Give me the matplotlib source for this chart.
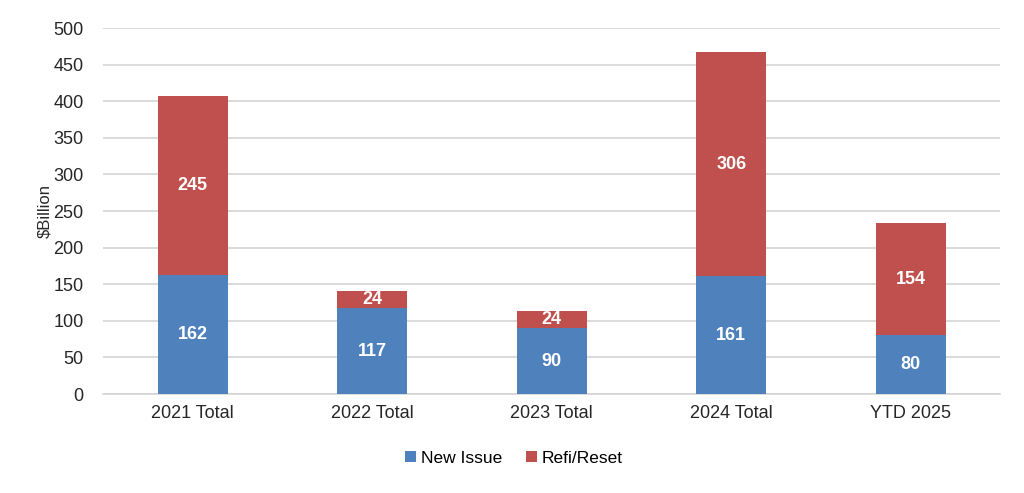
import matplotlib
matplotlib.use("Agg")
import matplotlib.pyplot as plt
import numpy as np

plt.rcParams['font.family'] = ['Liberation Sans', 'DejaVu Sans']

categories = ["2021 Total", "2022 Total", "2023 Total", "2024 Total", "YTD 2025"]
new_issue = [162, 117, 90, 161, 80]
refi_reset = [245, 24, 24, 306, 154]

blue = "#4F81BD"
red = "#C0504D"

fig = plt.figure(figsize=(10.24, 4.93), dpi=100)
ax = fig.add_axes([0.1006, 0.2008, 0.8764, 0.7424])

x = np.arange(len(categories))
w = 0.39
b1 = ax.bar(x, new_issue, w, color=blue, label="New Issue", zorder=3)
b2 = ax.bar(x, refi_reset, w, bottom=new_issue, color=red, label="Refi/Reset", zorder=3)

for i in range(len(categories)):
    ax.text(x[i], new_issue[i] / 2, str(new_issue[i]), ha="center", va="center",
            color="white", fontsize=13, fontweight="bold", zorder=4)
    ax.text(x[i], new_issue[i] + refi_reset[i] / 2, str(refi_reset[i]), ha="center", va="center",
            color="white", fontsize=13, fontweight="bold", zorder=4)

ax.set_xlim(-0.5, len(categories) - 0.5)
ax.set_ylim(0, 500)
ax.set_yticks(range(0, 501, 50))
ax.set_xticks(x)
ax.set_xticklabels(categories)
ax.yaxis.grid(True, color="#D4D4D4", linewidth=1.2, zorder=0)
for s in ["top", "right", "left"]:
    ax.spines[s].set_visible(False)
ax.spines["bottom"].set_color("#D4D4D4")
ax.spines["bottom"].set_linewidth(1.2)
ax.tick_params(axis="both", length=0, labelsize=13, colors="#262626")
ax.tick_params(axis="x", pad=8)
ax.tick_params(axis="y", pad=14)
ax.set_ylabel("$Billion", fontsize=12, color="#262626", labelpad=1)

ax.legend(loc="upper center", bbox_to_anchor=(0.458, -0.112), ncol=2, frameon=False,
          fontsize=12.5, handlelength=0.6, handleheight=0.6, handletextpad=0.3, columnspacing=1.4)

fig.savefig("out.png", dpi=100)
